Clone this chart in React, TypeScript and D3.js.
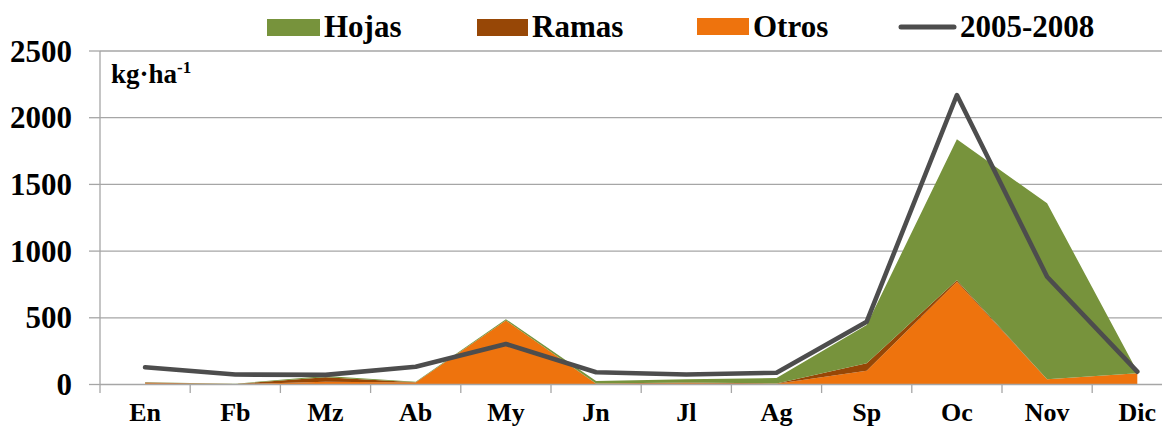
import React from "react";
import * as d3 from "d3";

const months = ["En", "Fb", "Mz", "Ab", "My", "Jn", "Jl", "Ag", "Sp", "Oc", "Nov", "Dic"];
const hojas = [2, 2, 8, 3, 10, 20, 25, 40, 287, 1057, 1319, 12];
const ramas = [5, 1, 35, 2, 0, 2, 5, 3, 55, 10, 0, 0];
const otros = [10, 3, 20, 15, 480, 5, 10, 5, 104, 771, 39, 85];
const line0508 = [129, 75, 72, 133, 304, 92, 75, 88, 471, 2170, 808, 96];
const yTicks = [0, 500, 1000, 1500, 2000, 2500];

const W = 1162;
const H = 428;
const FONT = "Liberation Serif";

const colors = { Hojas: "#77933C", Ramas: "#974706", Otros: "#EE730D" };

const txt = (size: number) => ({ fontFamily: FONT, fontWeight: 700, fontSize: size } as React.CSSProperties);

export default function App() {
  const x = d3.scaleBand<string>().domain(months).range([100, 100 + 12 * 90.2]).padding(0);
  const y = d3.scaleLinear().domain([0, 2500]).range([384.5, 51]);
  const cx = (m: string) => (x(m) as number) + x.bandwidth() / 2;

  const table = months.map((m, i) => ({ m, Otros: otros[i], Ramas: ramas[i], Hojas: hojas[i] }));
  const stack = d3.stack<any>().keys(["Otros", "Ramas", "Hojas"]);
  const series = stack(table);
  const area = d3
    .area<any>()
    .x((d) => cx(d.data.m))
    .y0((d) => y(d[0]))
    .y1((d) => y(d[1]));
  const line = d3
    .line<number>()
    .x((_, i) => cx(months[i]))
    .y((d) => y(d));

  const x0 = 100;
  const x1 = 100 + 12 * 90.2;

  return (
    <svg width={W} height={H} style={{ position: "absolute", left: 0, top: 0, background: "#fff" }}>
      {yTicks.map((t) => (
        <g key={t}>
          {t > 0 && <line x1={x0} x2={x1} y1={y(t)} y2={y(t)} stroke="#a6a6a6" strokeWidth={1.3} />}
          <line x1={89} x2={x0} y1={y(t)} y2={y(t)} stroke="#a6a6a6" strokeWidth={1.3} />
          <text x={72} y={y(t) + 10.5} textAnchor="end" style={txt(31)} fill="#000">
            {t}
          </text>
        </g>
      ))}
      {series.map((s) => (
        <path key={s.key} d={area(s) as string} fill={(colors as any)[s.key]} />
      ))}
      <line x1={x0} x2={x0} y1={y(2500)} y2={393} stroke="#a6a6a6" strokeWidth={1.3} />
      <line x1={x0} x2={x1} y1={y(0)} y2={y(0)} stroke="#a6a6a6" strokeWidth={1.3} />
      {months.map((m, i) => (
        <line
          key={"t" + m}
          x1={x0 + (i + 1) * x.bandwidth()}
          x2={x0 + (i + 1) * x.bandwidth()}
          y1={y(0)}
          y2={393}
          stroke="#a6a6a6"
          strokeWidth={1.3}
        />
      ))}
      <path
        d={line(line0508) as string}
        fill="none"
        stroke="#4d4d4d"
        strokeWidth={4.6}
        strokeLinejoin="round"
        strokeLinecap="round"
      />
      {months.map((m) => (
        <text key={"l" + m} x={cx(m)} y={421} textAnchor="middle" style={txt(26)} fill="#000">
          {m}
        </text>
      ))}
      <text x={111} y={83} style={txt(27)} fill="#000">
        kg·ha
        <tspan style={{ fontSize: 17 }} dy={-10}>
          -1
        </tspan>
      </text>
      <rect x={267} y={19} width={53} height={17} fill={colors.Hojas} />
      <text x={324} y={37} style={txt(31)}>
        Hojas
      </text>
      <rect x={477} y={19} width={51} height={17} fill={colors.Ramas} />
      <text x={532} y={37} style={txt(31)}>
        Ramas
      </text>
      <rect x={697} y={18} width={52} height={17} fill={colors.Otros} />
      <text x={753} y={37} style={txt(31)}>
        Otros
      </text>
      <line x1={901} x2={954} y1={27} y2={27} stroke="#4d4d4d" strokeWidth={5} strokeLinecap="round" />
      <text x={960} y={37} style={txt(31)}>
        2005-2008
      </text>
    </svg>
  );
}
